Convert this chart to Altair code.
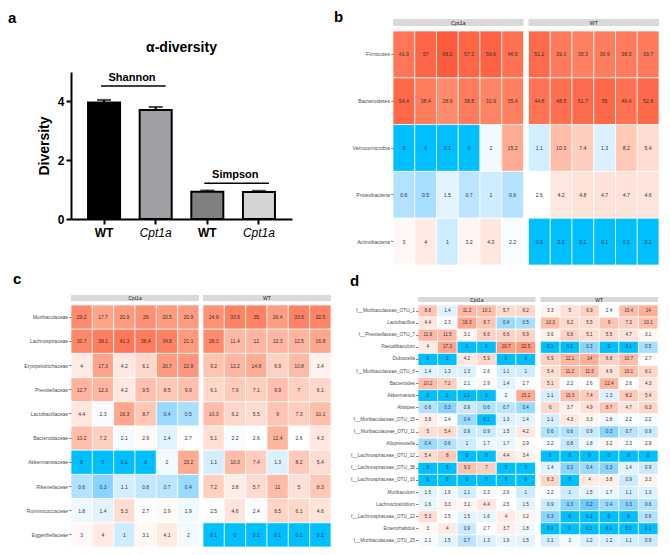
import altair as alt
import pandas as pd
import numpy as np

FONT = "Liberation Sans"
BLUE = "#00BFFF"
RED = "#FB5A3C"

# ---------------- panel a : alpha diversity ----------------
a_cats = ["WT|Shannon", "Cpt1a|Shannon", "WT|Simpson", "Cpt1a|Simpson"]
a_means = [3.96, 3.71, 0.93, 0.92]
a_upper = [4.05, 3.81, 0.97, 0.96]
a_fills = ["#000000", "#a0a0a4", "#808080", "#d4d4d4"]
a_ann_names = ["Shannon", "Simpson"]
a_ann_from = ["WT|Shannon", "WT|Simpson"]
a_ann_to = ["Cpt1a|Shannon", "Cpt1a|Simpson"]
a_ann_line = [4.52, 1.22]
a_ann_text = [4.70, 1.40]
a_ticks = [0, 1, 2, 3, 4, 5]

# ---------------- panel b : phylum ----------------
b_rows = ["Firmicutes", "Bacteroidetes", "Verrucomicrobia", "Proteobacteria", "Actinobacteria"]
b_cpt = [
    [41.9, 57, 68.2, 57.2, 59.6, 46.5],
    [54.4, 38.4, 28.9, 38.8, 32.9, 35.4],
    [0, 0, 0.1, 0, 2, 15.2],
    [0.6, 0.5, 1.5, 0.7, 1, 0.6],
    [3, 4, 1, 3.2, 4.3, 2.2],
]
b_wt = [
    [51.2, 39.3, 35.3, 36.9, 38.3, 39.7],
    [44.8, 48.5, 51.7, 55, 46.4, 52.9],
    [1.1, 10.3, 7.4, 1.3, 8.2, 5.4],
    [2.6, 4.2, 4.8, 4.7, 4.7, 4.6],
    [0.1, 0.1, 0.1, 0.1, 0.1, 0.1],
]

# ---------------- panel c : family ----------------
c_rows = ["Muribaculaceae", "Lachnospiraceae", "Erysipelotrichaceae", "Prevotellaceae",
          "Lactobacillaceae", "Bacteroidaceae", "Akkermansiaceae", "Rikenellaceae",
          "Ruminococcaceae", "Eggerthellaceae"]
c_cpt = [
    [29.2, 17.7, 20.9, 26, 20.5, 20.9],
    [30.7, 38.1, 41.3, 38.4, 34.8, 21.1],
    [4, 17.3, 4.2, 6.1, 20.7, 22.8],
    [12.7, 12.3, 4.2, 9.5, 8.5, 9.9],
    [4.4, 2.3, 16.3, 8.7, 0.4, 0.5],
    [10.2, 7.2, 2.1, 2.9, 1.4, 2.7],
    [0, 0, 0.1, 0, 2, 15.2],
    [0.6, 0.3, 1.1, 0.8, 0.7, 0.4],
    [1.8, 1.4, 5.3, 2.7, 2.9, 1.9],
    [3, 4, 1, 3.1, 4.1, 2],
]
c_wt = [
    [24.9, 33.9, 35, 20.4, 33.5, 32.5],
    [28.3, 11.4, 12, 12.3, 12.5, 16.8],
    [9.2, 12.2, 14.8, 6.9, 10.8, 3.4],
    [6.1, 7.9, 7.1, 9.9, 7, 6.1],
    [10.3, 6.2, 5.5, 9, 7.3, 10.1],
    [5.1, 2.2, 2.6, 12.4, 2.6, 4.3],
    [1.1, 10.3, 7.4, 1.3, 8.2, 5.4],
    [7.2, 3.8, 5.7, 11, 5, 8.3],
    [2.5, 4.6, 2.4, 6.5, 6.1, 4.6],
    [0.1, 0, 0.1, 0.1, 0.1, 0.1],
]

# ---------------- panel d : genus / OTU ----------------
d_rows = ["f__Muribaculaceae_OTU_1", "Lactobacillus", "f__Prevotellaceae_OTU_7", "Faecalibaculum",
          "Dubosiella", "f__Muribaculaceae_OTU_6", "Bacteroides", "Akkermansia", "Alistipes",
          "f__Muribaculaceae_OTU_15", "f__Muribaculaceae_OTU_11", "Alloprevotella",
          "f__Lachnospiraceae_OTU_12", "f__Lachnospiraceae_OTU_38", "f__Lachnospiraceae_OTU_16",
          "Muribaculum", "Lachnoclostridium", "f__Lachnospiraceae_OTU_22", "Enterorhabdus",
          "f__Muribaculaceae_OTU_25"]
d_cpt = [
    [8.8, 1.4, 11.2, 10.1, 5.7, 6.2],
    [4.4, 2.3, 16.3, 8.7, 0.4, 0.5],
    [11.9, 11.5, 3.1, 6.6, 6.6, 6.9],
    [4, 17.3, 0, 0, 20.7, 22.5],
    [0, 0, 4.2, 5.9, 0, 0],
    [1.4, 1.3, 1.3, 2.6, 1.1, 1],
    [10.2, 7.2, 2.1, 2.9, 1.4, 2.7],
    [0, 0, 0.1, 0, 2, 15.2],
    [0.6, 0.3, 0.9, 0.6, 0.7, 0.4],
    [3.8, 2.4, 0.4, 0.1, 1.3, 1.4],
    [5, 5.4, 0.9, 0.9, 1.5, 4.2],
    [0.4, 0.6, 1, 1.7, 1.7, 2.9],
    [5.4, 8, 0, 0, 4.4, 3.4],
    [0, 0, 9.3, 7, 0, 0],
    [0, 0, 0, 0, 0, 0],
    [1.5, 1.9, 1.1, 2.3, 2.6, 1],
    [1.6, 3.3, 3.2, 4.4, 2.5, 1.5],
    [5.3, 2.5, 1.5, 1.6, 4, 3.2],
    [3, 4, 0.9, 2.7, 3.7, 1.8],
    [2.1, 1.5, 0.7, 1.3, 1.6, 1.5],
]
d_wt = [
    [3.3, 5, 6.9, 2.4, 10.4, 14],
    [10.3, 6.2, 5.5, 9, 7.3, 10.1],
    [3.6, 6.8, 5.1, 5.5, 4.7, 3.1],
    [0.1, 0.1, 0.3, 0, 0.1, 0.5],
    [6.9, 12.1, 14, 6.8, 10.7, 2.7],
    [5.4, 11.2, 11.5, 4.9, 10.1, 6.1],
    [5.1, 2.2, 2.6, 12.4, 2.6, 4.3],
    [1.1, 10.3, 7.4, 1.3, 8.2, 5.4],
    [6, 3.7, 4.9, 8.7, 4.7, 6.3],
    [1.1, 4.3, 3.3, 1.8, 2.2, 2.2],
    [0.6, 0.6, 0.9, 0.3, 0.7, 0.9],
    [2.2, 0.8, 1.8, 3.2, 2.3, 2.9],
    [0, 0, 0, 0, 0, 0],
    [1.4, 0.3, 0.4, 0.3, 1.4, 0.9],
    [6.3, 0, 4, 3.8, 0.9, 3.3],
    [2.2, 1, 1.5, 1.7, 1.1, 1.3],
    [0.9, 0.3, 0.2, 0.4, 0.3, 0.6],
    [0.3, 0, 0.1, 0, 0, 0.6],
    [0.1, 0, 0.1, 0.1, 0.1, 0.1],
    [1.1, 2, 1.2, 1.2, 1.1, 0.9],
]
groups = ["Cpt1a", "WT"]
n_samples = 6


def letter_layer(ch, x, y):
    return alt.Chart(pd.DataFrame({"t": [ch]})).mark_text(
        align="left", baseline="alphabetic", fontSize=15, fontWeight="bold",
        font=FONT, color="black").encode(x=alt.value(x), y=alt.value(y), text="t:N")


# ---------------- panel a chart ----------------
A_W, A_H = 221, 188
df_a = pd.DataFrame({"cat": a_cats, "mean": a_means, "upper": a_upper, "fill": a_fills})
df_ann = pd.DataFrame({"name": a_ann_names, "c1": a_ann_from, "c2": a_ann_to,
                       "line": a_ann_line, "ty": a_ann_text})
is_cpt = "indexof(datum.value,'Cpt1a')==0"
xa_scale = alt.Scale(domain=a_cats, paddingInner=0.38, paddingOuter=0.33)
xa = alt.X("cat:N", scale=xa_scale,
           axis=alt.Axis(title=None, labelExpr="split(datum.value,'|')[0]", labelAngle=0,
                         labelFontSize=12, labelColor="black", labelFont=FONT,
                         labelFontWeight={"condition": {"test": is_cpt, "value": "normal"}, "value": "bold"},
                         labelFontStyle={"condition": {"test": is_cpt, "value": "italic"}, "value": "normal"},
                         domainColor="black", domainWidth=2, tickColor="black", tickWidth=2,
                         tickSize=5, labelPadding=3))
ya = alt.Y("mean:Q", scale=alt.Scale(domain=[0, 5], range=[A_H, 41], nice=False),
           axis=alt.Axis(title="Diversity", values=a_ticks, grid=False, labelFontSize=12,
                         labelFontWeight="bold", labelColor="black", labelFont=FONT,
                         domainColor="black", domainWidth=2, tickColor="black", tickWidth=2,
                         tickSize=5, labelPadding=2, titleFontSize=14, titleFontWeight="bold",
                         titleColor="black", titleFont=FONT, titlePadding=6))
bars = alt.Chart(df_a).mark_bar(stroke="black", strokeWidth=2).encode(
    x=xa, y=ya, color=alt.Color("fill:N", scale=None))
err = alt.Chart(df_a).mark_rule(color="black", strokeWidth=2).encode(
    x=alt.X("cat:N"), y="mean:Q", y2="upper:Q")
cap = alt.Chart(df_a).mark_tick(color="black", thickness=2, size=14).encode(
    x=alt.X("cat:N"), y="upper:Q")
ann_rule = alt.Chart(df_ann).mark_rule(color="black", strokeWidth=1.5, xOffset=-3, x2Offset=10).encode(
    x=alt.X("c1:N"), x2="c2:N", y="line:Q")
ann_text = alt.Chart(df_ann).mark_text(fontSize=11, fontWeight="bold", font=FONT, dx=28,
                                       baseline="alphabetic", color="black").encode(
    x=alt.X("c1:N"), y="ty:Q", text="name:N")
a_title = alt.Chart(pd.DataFrame({"t": ["\u03b1-diversity"]})).mark_text(
    fontSize=14, fontWeight="bold", font=FONT, baseline="alphabetic", color="black").encode(
    x=alt.value(A_W / 2), y=alt.value(21), text="t:N")
panel_a = alt.layer(bars, err, cap, ann_rule, ann_text, a_title, letter_layer("a", -63, -8)).properties(
    width=A_W, height=A_H)


# ---------------- heatmap helper ----------------
def heatmap(letter, rows, cpt, wt, W, H, gap, strip, lpos, cell_fs, label_fs, strip_fs):
    recs = []
    for r, name in enumerate(rows):
        for g, vals in ((groups[0], cpt[r]), (groups[1], wt[r])):
            for i, v in enumerate(vals):
                recs.append({"row": name, "group": g, "col": i,
                             "value": v, "label": f"{v:g}"})
    df = pd.DataFrame(recs)
    lo = -1.0
    hi = float(np.log10(df["value"].max()))
    mid = (lo + hi) / 2
    cell = (W - gap) / (2 * n_samples)
    G = gap / cell  # gap between the two blocks, in cell units
    total = 2 * n_samples + G
    xscale = alt.Scale(domain=[0, total], nice=False, zero=False)
    shift = f"(datum.group == 'WT' ? {n_samples + G} : 0)"
    y = alt.Y("row:N", sort=rows, scale=alt.Scale(paddingInner=0, paddingOuter=0),
              axis=alt.Axis(title=None, domain=False, tickSize=2.5, tickColor="#333333",
                            tickWidth=0.6, labelFontSize=label_fs, labelColor="#4d4d4d",
                            labelPadding=1, labelFont=FONT, labelLimit=0))
    base = alt.Chart(df).transform_calculate(
        lv="log(max(datum.value, 0.1)) / LN10",
        x0=f"datum.col + {shift}",
        x1=f"datum.col + 1 + {shift}",
        xc=f"datum.col + 0.5 + {shift}")
    rect = base.mark_rect(stroke="white", strokeWidth=0.7).encode(
        x=alt.X("x0:Q", scale=xscale, axis=None), x2="x1:Q", y=y,
        color=alt.Color("lv:Q", legend=None,
                        scale=alt.Scale(domain=[lo, mid, hi], range=[BLUE, "#ffffff", RED],
                                        interpolate="lab", clamp=True)))
    txt = base.mark_text(fontSize=cell_fs, color="#333333", font=FONT).encode(
        x=alt.X("xc:Q"), y=y, text="label:N")
    sdf = pd.DataFrame({"group": groups})
    sbase = alt.Chart(sdf).transform_calculate(
        s0=f"{shift}", s1=f"{n_samples} + {shift}", sc=f"{n_samples / 2} + {shift}")
    srect = sbase.mark_rect(color="#d9d9d9").encode(
        x=alt.X("s0:Q"), x2="s1:Q", y=alt.value(strip[0]), y2=alt.value(strip[1]))
    ymid = (strip[0] + strip[1]) / 2
    stxt_i = sbase.transform_filter(alt.datum.group == "Cpt1a").mark_text(
        fontSize=strip_fs, color="#1a1a1a", font=FONT, fontStyle="italic").encode(
        x=alt.X("sc:Q"), y=alt.value(ymid), text="group:N")
    stxt_n = sbase.transform_filter(alt.datum.group != "Cpt1a").mark_text(
        fontSize=strip_fs, color="#1a1a1a", font=FONT).encode(
        x=alt.X("sc:Q"), y=alt.value(ymid), text="group:N")
    return alt.layer(rect, txt, srect, stxt_i, stxt_n, letter_layer(letter, lpos[0], lpos[1])).properties(
        width=W, height=H)


panel_b = heatmap("b", b_rows, b_cpt, b_wt, 266, 234, 5, (-12, -5), (-59, -9), 5.2, 5.2, 5.4)
panel_c = heatmap("c", c_rows, c_cpt, c_wt, 260, 242, 4, (-10, -4), (-58, -21), 5.0, 5.0, 5.0)
panel_d = heatmap("d", d_rows, d_cpt, d_wt, 240, 242, 5, (-8, -3), (-68, -19), 4.6, 4.8, 5.0)

top = alt.hconcat(panel_a, panel_b, spacing=42)
bottom = alt.hconcat(panel_c, panel_d, spacing=18)
chart = alt.vconcat(top, bottom, spacing=6).properties(
    padding={"top": 2, "left": 0, "right": 0, "bottom": 0}).configure(
    font=FONT).configure_view(stroke=None)

chart.save("out.html", embed_options={"renderer": "svg", "actions": False})
